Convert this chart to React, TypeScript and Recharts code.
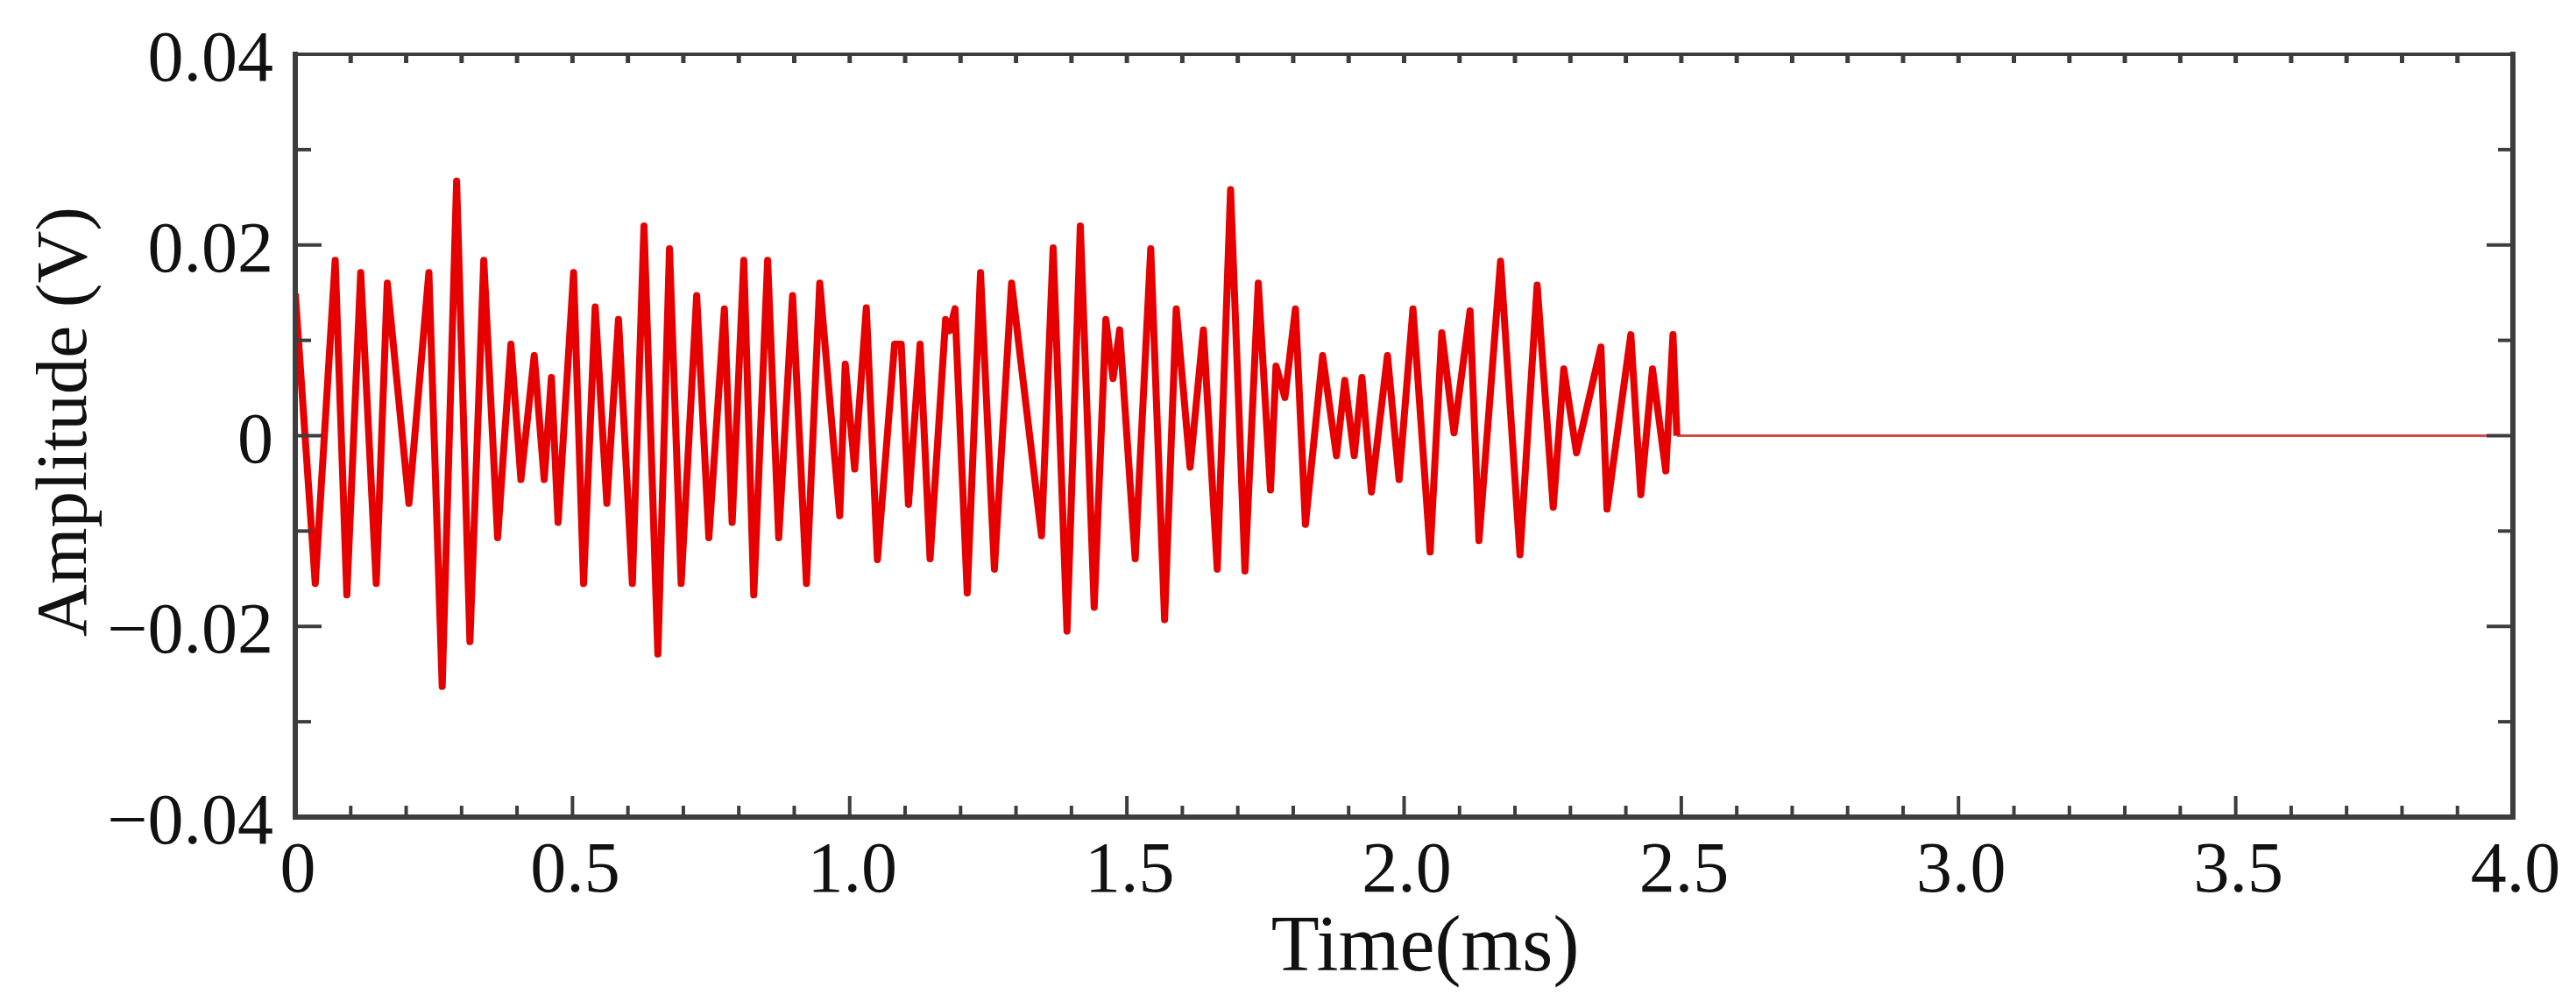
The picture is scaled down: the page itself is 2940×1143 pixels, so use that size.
import React from 'react';
import { LineChart, Line, XAxis, YAxis } from 'recharts';

// ---- data (time in ms, amplitude in V) ----
const signalTime = [
  0.000, 0.036, 0.072, 0.093, 0.118, 0.146, 0.166, 0.205, 0.241, 0.265,
  0.291, 0.315, 0.340, 0.365, 0.389, 0.407, 0.431, 0.449, 0.462, 0.474,
  0.502, 0.520, 0.541, 0.562, 0.583, 0.608, 0.629, 0.654, 0.675, 0.696,
  0.724, 0.746, 0.774, 0.788, 0.809, 0.827, 0.852, 0.872, 0.897, 0.922,
  0.946, 0.982, 0.992, 1.009, 1.030, 1.050, 1.081, 1.093, 1.106, 1.127,
  1.145, 1.173, 1.180, 1.190, 1.212, 1.236, 1.261, 1.292, 1.346, 1.367,
  1.392, 1.416, 1.441, 1.462, 1.475, 1.487, 1.515, 1.543, 1.568, 1.589,
  1.614, 1.638, 1.663, 1.687, 1.713, 1.737, 1.759, 1.769, 1.785, 1.804,
  1.822, 1.853, 1.878, 1.893, 1.910, 1.924, 1.941, 1.970, 1.991, 2.016,
  2.047, 2.068, 2.090, 2.119, 2.135, 2.174, 2.209, 2.240, 2.269, 2.288,
  2.311, 2.355, 2.366, 2.409, 2.427, 2.448, 2.472, 2.485, 2.492,
];
const signalAmplitude = [
  0.0149, -0.0155, 0.0184, -0.0167, 0.0171, -0.0155, 0.0160, -0.0071, 0.0171, -0.0263,
  0.0267, -0.0216, 0.0184, -0.0107, 0.0096, -0.0046, 0.0084, -0.0046, 0.0061, -0.0091,
  0.0171, -0.0155, 0.0135, -0.0071, 0.0122, -0.0155, 0.0220, -0.0229, 0.0196, -0.0155,
  0.0147, -0.0107, 0.0133, -0.0091, 0.0184, -0.0167, 0.0184, -0.0107, 0.0147, -0.0155,
  0.0160, -0.0084, 0.0075, -0.0035, 0.0134, -0.0130, 0.0096, 0.0096, -0.0072, 0.0096,
  -0.0129, 0.0122, 0.0110, 0.0133, -0.0165, 0.0171, -0.0140, 0.0160, -0.0105, 0.0197,
  -0.0205, 0.0220, -0.0180, 0.0122, 0.0060, 0.0111, -0.0129, 0.0196, -0.0193, 0.0133,
  -0.0033, 0.0111, -0.0140, 0.0258, -0.0142, 0.0160, -0.0057, 0.0073, 0.0040, 0.0133,
  -0.0093, 0.0084, -0.0021, 0.0058, -0.0021, 0.0061, -0.0059, 0.0084, -0.0046, 0.0133,
  -0.0122, 0.0108, 0.0003, 0.0131, -0.0110, 0.0183, -0.0125, 0.0158, -0.0075, 0.0070,
  -0.0018, 0.0093, -0.0077, 0.0106, -0.0062, 0.0070, -0.0037, 0.0106, 0.0000,
];
const flatTime = [2.492, 4.0];
const flatAmplitude = [0, 0];

const xMajorTicks = [0, 0.5, 1.0, 1.5, 2.0, 2.5, 3.0, 3.5, 4.0];
const xTickLabels = ['0', '0.5', '1.0', '1.5', '2.0', '2.5', '3.0', '3.5', '4.0'];
const xMinorTicks = [
  0.1, 0.2, 0.3, 0.4, 0.6, 0.7, 0.8, 0.9, 1.1, 1.2, 1.3, 1.4, 1.6, 1.7, 1.8, 1.9,
  2.1, 2.2, 2.3, 2.4, 2.6, 2.7, 2.8, 2.9, 3.1, 3.2, 3.3, 3.4, 3.6, 3.7, 3.8, 3.9,
];
const yMajorTicks = [-0.04, -0.02, 0, 0.02, 0.04];
const yTickLabels = ['\u22120.04', '\u22120.02', '0', '0.02', '0.04'];
const yMinorTicks = [-0.03, -0.01, 0.01, 0.03];

const xAllTicks = [...xMajorTicks, ...xMinorTicks].sort((a, b) => a - b);
const yAllTicks = [...yMajorTicks, ...yMinorTicks].sort((a, b) => a - b);

const signalData = signalTime.map((t, i) => ({ t, v: signalAmplitude[i] }));
const flatData = flatTime.map((t, i) => ({ t, v: flatAmplitude[i] }));

// ---- styling ----
const AXIS = '#3d3d3d';
const TEXT = '#111111';
const FONT = '"Liberation Serif", "Times New Roman", Times, serif';

function labelFor(value: number, majors: number[], labels: string[]) {
  const i = majors.findIndex((m) => Math.abs(m - value) < 1e-9);
  return i >= 0 ? labels[i] : null;
}

const BottomTick = (props: any) => {
  const { x, y, payload } = props;
  const label = labelFor(payload.value, xMajorTicks, xTickLabels);
  const len = label !== null ? 24 : 13;
  return (
    <g>
      <line x1={x} x2={x} y1={y} y2={y - len} stroke={AXIS} strokeWidth={4} />
      {label !== null && (
        <text x={x + 3} y={y + 85} textAnchor="middle" fontSize={82} fontFamily={FONT} fill={TEXT}>
          {label}
        </text>
      )}
    </g>
  );
};

const TopTick = (props: any) => {
  const { x, y } = props;
  return <line x1={x} x2={x} y1={y} y2={y + 10} stroke={AXIS} strokeWidth={5} />;
};

const LeftTick = (props: any) => {
  const { x, y, payload } = props;
  const label = labelFor(payload.value, yMajorTicks, yTickLabels);
  const len = label !== null ? 30 : 18;
  return (
    <g>
      <line x1={x} x2={x + len} y1={y} y2={y} stroke={AXIS} strokeWidth={4} />
      {label !== null && (
        <text x={x - 25} y={y + 30} textAnchor="end" fontSize={82} fontFamily={FONT} fill={TEXT}>
          {label}
        </text>
      )}
    </g>
  );
};

const RightTick = (props: any) => {
  const { x, y, payload } = props;
  const major = labelFor(payload.value, yMajorTicks, yTickLabels) !== null;
  const len = major ? 30 : 17;
  return <line x1={x} x2={x - len} y1={y} y2={y} stroke={AXIS} strokeWidth={4} />;
};

const XTitle = (props: any) => {
  const vb = props.viewBox || { x: 337, y: 933, width: 2532, height: 210 };
  return (
    <text
      x={vb.x + vb.width / 2 + 24}
      y={vb.y + 175}
      textAnchor="middle"
      fontSize={90}
      fontFamily={FONT}
      fill={TEXT}
    >
      Time(ms)
    </text>
  );
};

const YTitle = (props: any) => {
  const vb = props.viewBox || { x: 0, y: 61, width: 337, height: 872 };
  const cy = vb.y + vb.height / 2 - 16;
  return (
    <text
      transform={`translate(98, ${cy}) rotate(-90)`}
      textAnchor="middle"
      fontSize={83}
      fontFamily={FONT}
      fill={TEXT}
    >
      Amplitude (V)
    </text>
  );
};

export default function App() {
  return (
    <div style={{ position: 'absolute', left: 0, top: 0, width: 2940, height: 1143, background: '#ffffff' }}>
      <LineChart width={2940} height={1143} margin={{ top: 61, right: 71, bottom: 0, left: 0 }}>
        <XAxis
          type="number"
          dataKey="t"
          domain={[0, 4]}
          allowDataOverflow
          ticks={xAllTicks}
          interval={0}
          tickSize={0}
          tickMargin={0}
          tickLine={false}
          tick={BottomTick}
          height={210}
          axisLine={{ stroke: AXIS, strokeWidth: 6, strokeLinecap: 'square' }}
          label={XTitle}
        />
        <XAxis
          xAxisId="top"
          orientation="top"
          type="number"
          dataKey="t"
          domain={[0, 4]}
          allowDataOverflow
          ticks={xAllTicks}
          interval={0}
          tickSize={0}
          tickMargin={0}
          tickLine={false}
          tick={TopTick}
          height={1}
          axisLine={{ stroke: AXIS, strokeWidth: 4, strokeLinecap: 'square' }}
        />
        <YAxis
          type="number"
          domain={[-0.04, 0.04]}
          allowDataOverflow
          ticks={yAllTicks}
          interval={0}
          tickSize={0}
          tickMargin={0}
          tickLine={false}
          tick={LeftTick}
          width={337}
          axisLine={{ stroke: AXIS, strokeWidth: 6, strokeLinecap: 'square' }}
          label={YTitle}
        />
        <YAxis
          yAxisId="right"
          orientation="right"
          type="number"
          domain={[-0.04, 0.04]}
          allowDataOverflow
          ticks={yAllTicks}
          interval={0}
          tickSize={0}
          tickMargin={0}
          tickLine={false}
          tick={RightTick}
          width={1}
          axisLine={{ stroke: AXIS, strokeWidth: 6, strokeLinecap: 'square' }}
        />
        <Line
          xAxisId="top"
          yAxisId="right"
          data={flatData}
          dataKey="v"
          type="linear"
          stroke="#d24a45"
          strokeWidth={3}
          dot={false}
          activeDot={false}
          isAnimationActive={false}
        />
        <Line
          data={signalData}
          dataKey="v"
          type="linear"
          stroke="#e60000"
          strokeWidth={8}
          strokeLinejoin="round"
          dot={false}
          activeDot={false}
          isAnimationActive={false}
        />
      </LineChart>
    </div>
  );
}
